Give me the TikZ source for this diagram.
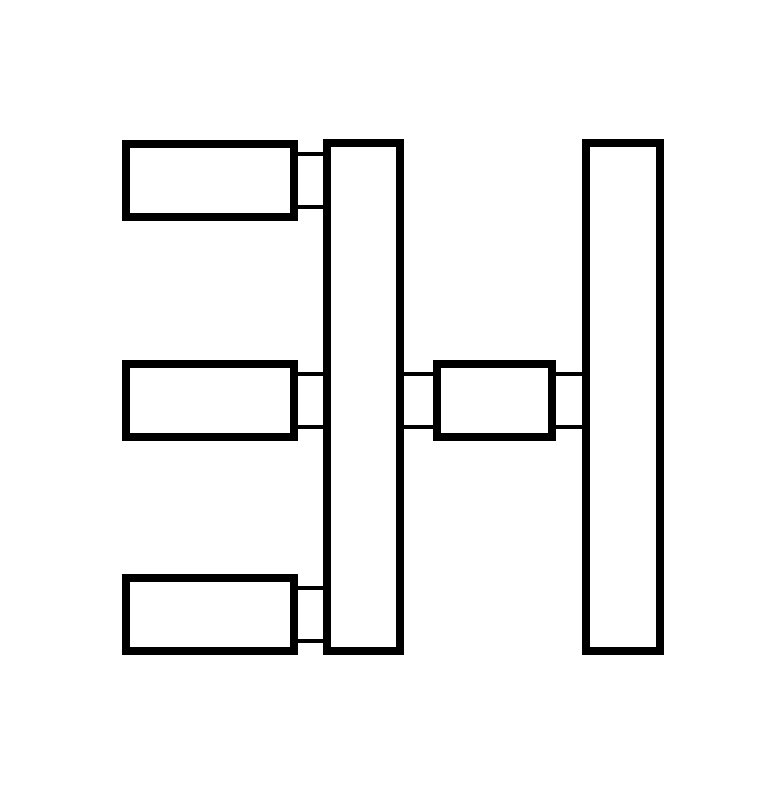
\documentclass[tikz,border=0pt]{standalone}
\begin{document}
\begin{tikzpicture}[x=1pt,y=-1pt,
  blk/.style={draw=black,line width=8pt,rectangle,inner sep=0pt,outer sep=0pt},
  conn/.style={draw=black,line width=4pt}]
\useasboundingbox (0,0) rectangle (766,803);
% connectors first
\node[blk,minimum width=168.5pt,minimum height=73pt] (l1) at (209.75,180) {};
\node[blk,minimum width=168.5pt,minimum height=73pt] (l2) at (209.75,400) {};
\node[blk,minimum width=168.5pt,minimum height=73pt] (l3) at (209.75,614.5) {};
\node[blk,minimum width=73.3pt,minimum height=507.7pt] (m) at (363.35,397.15) {};
\node[blk,minimum width=115pt,minimum height=72.5pt] (c) at (494.5,400.25) {};
\node[blk,minimum width=73.5pt,minimum height=507.7pt] (r) at (622.75,397.15) {};
\foreach \a/\b in {l1/m,l2/m,l3/m,c/r}{
  \draw[conn] ([yshift=26.5pt]\a.east) -- ([yshift=26.5pt]\a.east -| \b.west);
  \draw[conn] ([yshift=-26.5pt]\a.east) -- ([yshift=-26.5pt]\a.east -| \b.west);
}
\draw[conn] ([yshift=26.5pt]c.west) -- ([yshift=26.5pt]c.west -| m.east);
\draw[conn] ([yshift=-26.5pt]c.west) -- ([yshift=-26.5pt]c.west -| m.east);
\end{tikzpicture}
\end{document}
